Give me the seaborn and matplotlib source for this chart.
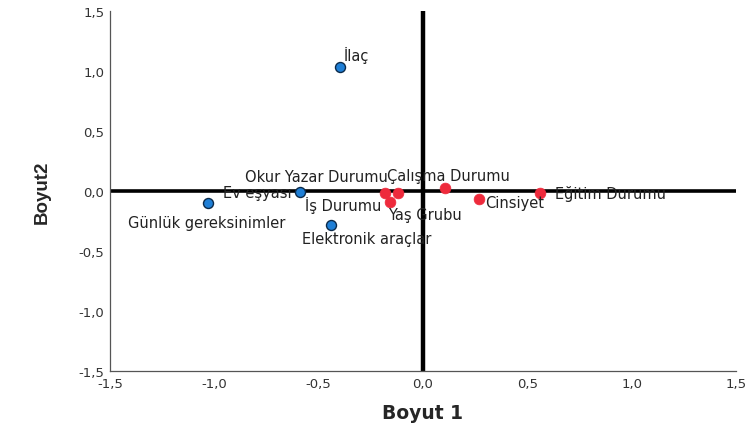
import matplotlib
matplotlib.use("Agg")
import matplotlib.pyplot as plt
import seaborn as sns
import pandas as pd

# Category points (products)
product_names = ["İlaç", "Ev eşyası", "Günlük gereksinimler", "Elektronik araçlar"]
product_dim1 = [-0.40, -0.59, -1.03, -0.44]
product_dim2 = [1.03, -0.01, -0.10, -0.28]

# Category points (demographic variables)
demo_names = ["Okur Yazar Durumu", "Çalışma Durumu", "İş Durumu", "Yaş Grubu",
              "Cinsiyet", "Eğitim Durumu"]
demo_dim1 = [-0.18, 0.105, -0.16, -0.12, 0.27, 0.56]
demo_dim2 = [-0.02, 0.025, -0.09, -0.02, -0.07, -0.02]

tick_values = [-1.5, -1.0, -0.5, 0.0, 0.5, 1.0, 1.5]
tick_labels = ["-1,5", "-1,0", "-0,5", "0,0", "0,5", "1,0", "1,5"]

df = pd.DataFrame({
    "name": product_names + demo_names,
    "Boyut 1": product_dim1 + demo_dim1,
    "Boyut2": product_dim2 + demo_dim2,
    "group": ["product"] * len(product_names) + ["demo"] * len(demo_names),
})

sns.set_style("white")
plt.rcParams["font.family"] = ["DejaVu Sans"]

fig = plt.figure(figsize=(7.46, 4.27), dpi=100)
ax = fig.add_axes([110 / 746, 1 - 372 / 427, 626 / 746, 360 / 427])

# reference lines through the origin
ax.axhline(0, color="black", lw=2.6, zorder=1)
ax.axvline(0, color="black", lw=3.2, zorder=1)

sns.scatterplot(data=df[df.group == "product"], x="Boyut 1", y="Boyut2", ax=ax,
                color="#1f7fd6", edgecolor="#0b2a4a", linewidth=1.0, s=52,
                zorder=3, legend=False)
sns.scatterplot(data=df[df.group == "demo"], x="Boyut 1", y="Boyut2", ax=ax,
                color="#ee2a3c", edgecolor="#ee2a3c", linewidth=0.5, s=60,
                zorder=3, legend=False)

# label placement (offsets in points, horizontal alignment)
label_pos = {
    "İlaç": (3, 9, "left"),
    "Ev eşyası": (-6, 0, "right"),
    "Günlük gereksinimler": (-1, -14, "center"),
    "Elektronik araçlar": (-21, -10, "left"),
    "Okur Yazar Durumu": (2, 12, "right"),
    "Çalışma Durumu": (-42, 9, "left"),
    "İş Durumu": (-6, -2, "right"),
    "Yaş Grubu": (-7, -15, "left"),
    "Cinsiyet": (4, -2, "left"),
    "Eğitim Durumu": (11, 0, "left"),
}
for _, row in df.iterrows():
    dx, dy, ha = label_pos[row["name"]]
    ax.annotate(row["name"], (row["Boyut 1"], row["Boyut2"]),
                xytext=(dx, dy), textcoords="offset points", ha=ha,
                va="center", fontsize=10.5, color="#222222", zorder=4)

ax.set_xlim(-1.5, 1.5)
ax.set_ylim(-1.5, 1.5)
ax.set_xticks(tick_values)
ax.set_xticklabels(tick_labels)
ax.set_yticks(tick_values)
ax.set_yticklabels(tick_labels)
ax.tick_params(axis="both", labelsize=9.5, colors="#333333", length=0, pad=4)

for side in ["top", "right"]:
    ax.spines[side].set_visible(False)
for side in ["left", "bottom"]:
    ax.spines[side].set_color("#555555")
    ax.spines[side].set_linewidth(0.9)

ax.set_xlabel("Boyut 1", fontsize=13.5, fontweight="bold", labelpad=10)
ax.set_ylabel("Boyut2", fontsize=13.5, fontweight="bold", labelpad=20,
              family=["Liberation Sans Narrow", "Liberation Sans"])

fig.savefig("out.png", dpi=100)
